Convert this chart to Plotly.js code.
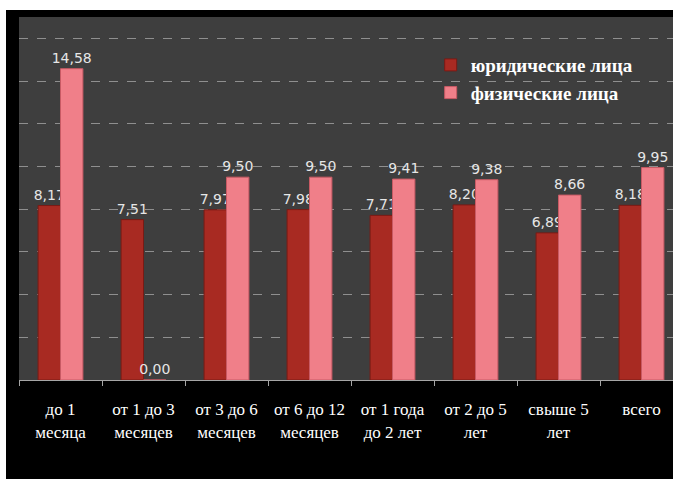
<!DOCTYPE html>
<html>
<head>
<meta charset="utf-8">
<script src="https://cdn.plot.ly/plotly-3.0.1.min.js"></script>
<style>
html, body { margin:0; padding:0; background:#ffffff; overflow:hidden; width:673px; height:479px; }
#chart { position:absolute; left:6px; top:10px; width:684px; height:469px; }
</style>
</head>
<body>
<div id="chart"></div>
<script>
var categories = ["до 1<br>месяца", "от 1 до 3<br>месяцев", "от 3 до 6<br>месяцев", "от 6 до 12<br>месяцев", "от 1 года<br>до 2 лет", "от 2 до 5<br>лет", "свыше 5<br>лет", "всего"];
var seriesNames = ["юридические лица", "физические лица"];
var legalValues = [8.17, 7.51, 7.97, 7.98, 7.71, 8.20, 6.89, 8.18];
var personValues = [14.58, 0.00, 9.50, 9.50, 9.41, 9.38, 8.66, 9.95];

var serifFamily = "Liberation Serif";
var labelFont = {family: "DejaVu Sans", size: 14, color: "#e6e6e6"};

var traces = [
  {
    type: "bar", name: seriesNames[0], x: categories, y: legalValues,
    marker: {color: "#a82a22", line: {color: "#7a1a14", width: 1}},
    texttemplate: "%{y:.2f}", textposition: "outside", cliponaxis: false,
    constraintext: "none", textfont: labelFont, hoverinfo: "skip"
  },
  {
    type: "bar", name: seriesNames[1], x: categories, y: personValues,
    marker: {color: "#f07f89", line: {color: "#c85a64", width: 1}},
    texttemplate: "%{y:.2f}", textposition: "outside", cliponaxis: false,
    constraintext: "none", textfont: labelFont, hoverinfo: "skip"
  }
];

var layout = {
  width: 684, height: 469,
  paper_bgcolor: "#000000", plot_bgcolor: "#3e3e3e",
  margin: {l: 13, r: 7, t: 7, b: 99},
  separators: ", ",
  barmode: "group", bargap: 0.46, bargroupgap: 0,
  showlegend: true,
  legend: {
    x: 0.62, y: 0.92, xanchor: "left", yanchor: "top",
    bgcolor: "rgba(0,0,0,0)", tracegroupgap: 4,
    font: {family: serifFamily, size: 19, color: "#ffffff", weight: "bold"}
  },
  xaxis: {
    type: "category", range: [-0.5, 7.5],
    showline: true, linecolor: "#a6a6a6", linewidth: 1,
    ticks: "outside", ticklen: 5, tickcolor: "#a6a6a6", tickson: "boundaries",
    ticklabelstandoff: 14, tickangle: 0,
    tickfont: {family: serifFamily, size: 17, color: "#ffffff"},
    showgrid: false, zeroline: false
  },
  yaxis: {
    range: [0, 17], dtick: 2, tick0: 0,
    showticklabels: false, ticks: "",
    showgrid: true, gridcolor: "#8f8f8f", griddash: "dash", gridwidth: 1,
    zeroline: false, showline: false
  }
};

Plotly.newPlot("chart", traces, layout, {displayModeBar: false, staticPlot: true});
</script>
</body>
</html>
